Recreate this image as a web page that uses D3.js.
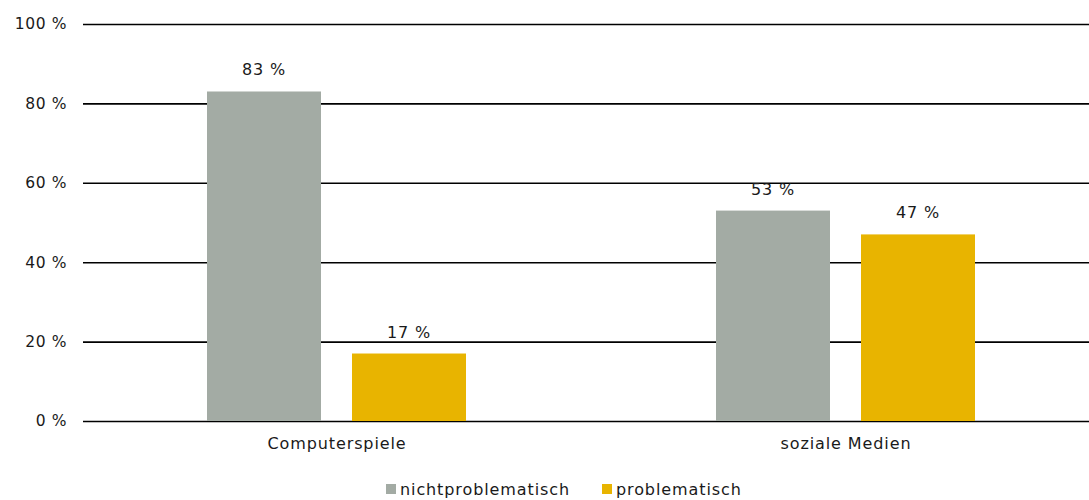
<!DOCTYPE html>
<html>
<head>
<meta charset="utf-8">
<script src="https://cdn.jsdelivr.net/npm/d3@7"></script>
<style>
  body { margin: 0; background: #fff; }
  text { font-family: "DejaVu Sans", sans-serif; font-size: 16px; letter-spacing: 0.9px; fill: #1a1a1a; }
</style>
</head>
<body>
<svg id="chart" width="1089" height="500"></svg>
<script>
const categories = ['Computerspiele', 'soziale Medien'];
const series = ['nichtproblematisch', 'problematisch'];
const nichtproblematisch = [83, 53];
const problematisch = [17, 47];
const yTicks = [0, 20, 40, 60, 80, 100];
const colors = ['#a3aba4', '#e8b400'];

const values = [nichtproblematisch, problematisch];
const rows = [];
categories.forEach((c, i) => {
  series.forEach((s, j) => {
    rows.push({ cat: c, ser: s, val: values[j][i] });
  });
});

const svg = d3.select('#chart');

const x0 = d3.scaleBand().domain(categories).range([83, 1101]);
const x1 = d3.scaleBand().domain(series).range([124, 383]).paddingInner(31 / 145);
const y = d3.scaleLinear().domain([0, 100]).range([421, 24]);
const color = d3.scaleOrdinal().domain(series).range(colors);

// gridlines + y labels
const yAxis = svg.append('g')
  .attr('transform', 'translate(83,0)')
  .call(d3.axisLeft(y).tickValues(yTicks).tickSize(-1006).tickFormat((d) => d + ' %'));
yAxis.select('.domain').remove();
yAxis.selectAll('.tick line').attr('stroke', '#000').attr('stroke-width', 1.6);
yAxis.selectAll('.tick text')
  .attr('x', -16)
  .attr('fill', '#1a1a1a')
  .style('font-family', '"DejaVu Sans", sans-serif')
  .style('font-size', '15.5px')
  .style('letter-spacing', '0.6px');

// bars
svg.append('g')
  .selectAll('rect')
  .data(rows)
  .enter()
  .append('rect')
  .attr('x', (d) => x0(d.cat) + x1(d.ser))
  .attr('y', (d) => y(d.val))
  .attr('width', x1.bandwidth())
  .attr('height', (d) => y(0) - y(d.val))
  .attr('fill', (d) => color(d.ser));

// value labels
svg.append('g')
  .selectAll('text')
  .data(rows)
  .enter()
  .append('text')
  .attr('x', (d) => x0(d.cat) + x1(d.ser) + x1.bandwidth() / 2)
  .attr('y', (d) => y(d.val) - 16)
  .attr('text-anchor', 'middle')
  .text((d) => d.val + ' %');

// category labels
svg.append('g')
  .selectAll('text')
  .data(categories)
  .enter()
  .append('text')
  .attr('x', (d) => x0(d) + 254)
  .attr('y', 449)
  .attr('text-anchor', 'middle')
  .text((d) => d);

// legend
const legendX = [386, 602];
const legend = svg.append('g')
  .selectAll('g')
  .data(series)
  .enter()
  .append('g')
  .attr('transform', (d, i) => 'translate(' + legendX[i] + ',484)');
legend.append('rect')
  .attr('width', 10)
  .attr('height', 10)
  .attr('fill', (d) => color(d));
legend.append('text')
  .attr('x', 14)
  .attr('y', 11)
  .text((d) => d);
</script>
</body>
</html>
